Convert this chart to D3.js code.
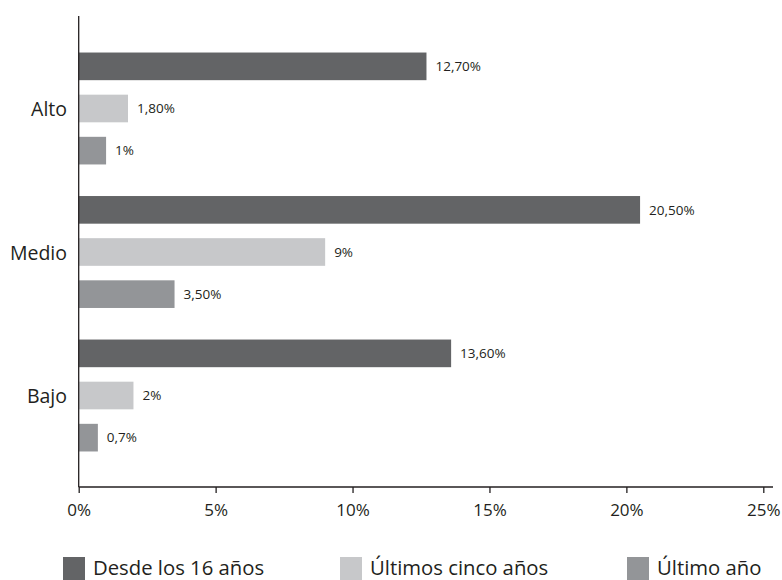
<!DOCTYPE html>
<html><head><meta charset="utf-8">
<script src="https://cdn.jsdelivr.net/npm/d3@7"></script>
<style>body{margin:0;background:#fff}svg{display:block}text{font-family:"Open Sans","Noto Sans",sans-serif;font-weight:400;fill:#231f20}</style>
</head><body>
<svg id="c" width="782" height="580"></svg>
<script>
const categories = ["Alto", "Medio", "Bajo"];
const seriesNames = ["Desde los 16 años", "Últimos cinco años", "Último año"];
const desde16 = [12.7, 20.5, 13.6];
const cincoAnios = [1.8, 9, 2];
const ultimoAnio = [1, 3.5, 0.7];
const desde16Labels = ["12,70%", "20,50%", "13,60%"];
const cincoLabels = ["1,80%", "9%", "2%"];
const ultimoLabels = ["1%", "3,50%", "0,7%"];
const xTicks = [0, 5, 10, 15, 20, 25];
const xTickLabels = ["0%", "5%", "10%", "15%", "20%", "25%"];
const colors = ["#636466", "#c7c8ca", "#939598"];

const svg = d3.select("#c");
const x = d3.scaleLinear().domain([0, 25]).range([78.7, 763.3]);
const y0 = d3.scaleBand().domain(categories).range([16, 488]).paddingInner(0.22).paddingOuter(0.2545);
const y1 = d3.scaleBand().domain(seriesNames).range([0, y0.bandwidth()]).paddingInner(0.344).paddingOuter(0);

const series = [
  {name: seriesNames[0], values: desde16, labels: desde16Labels},
  {name: seriesNames[1], values: cincoAnios, labels: cincoLabels},
  {name: seriesNames[2], values: ultimoAnio, labels: ultimoLabels}
];

const g = svg.append("g");
series.forEach((s, si) => {
  categories.forEach((c, ci) => {
    const yy = y0(c) + y1(s.name);
    g.append("rect").attr("x", x(0)).attr("y", yy)
      .attr("width", x(s.values[ci]) - x(0)).attr("height", y1.bandwidth())
      .attr("fill", colors[si]);
    g.append("text").attr("x", x(s.values[ci]) + 9).attr("y", yy + y1.bandwidth() / 2)
      .attr("dy", "0.35em").attr("font-size", 13.5).text(s.labels[ci]);
  });
});

// y axis line
svg.append("line").attr("x1", x(0)).attr("x2", x(0)).attr("y1", 16).attr("y2", 487)
  .attr("stroke", "#231f20").attr("stroke-width", 1.3);
categories.forEach(c => {
  svg.append("text").attr("x", 67).attr("y", y0(c) + y0.bandwidth() / 2 + 1)
    .attr("text-anchor", "end").attr("dy", "0.35em").attr("font-size", 19.5).text(c);
});

// x axis
const xAxis = d3.axisBottom(x).tickValues(xTicks).tickFormat((d, i) => xTickLabels[i]).tickSize(6).tickSizeOuter(0);
const ax = svg.append("g").attr("transform", "translate(0,487)").call(xAxis);
ax.select(".domain").attr("d", `M${x(0)},0H773`).attr("stroke", "#231f20").attr("stroke-width", 1.3);
ax.selectAll(".tick line").attr("stroke", "#231f20").attr("stroke-width", 1.3);
ax.selectAll(".tick text").attr("font-size", 17).attr("y", 17).attr("fill", "#231f20")
  .style("font-family", "'Open Sans', 'Noto Sans', sans-serif").style("font-weight", 400);

// legend
const legX = [63, 340, 627];
series.forEach((s, i) => {
  svg.append("rect").attr("x", legX[i]).attr("y", 557).attr("width", 22).attr("height", 23).attr("fill", colors[i]);
  svg.append("text").attr("x", legX[i] + 30).attr("y", 574.5).attr("font-size", 20.3).text(s.name);
});
</script>
</body></html>
